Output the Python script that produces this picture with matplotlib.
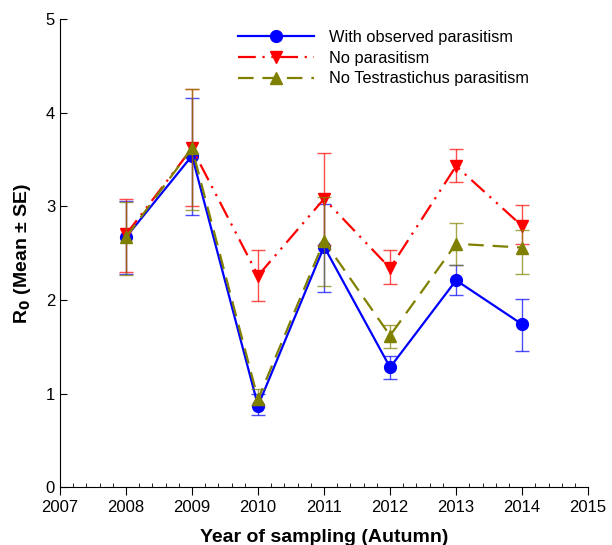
import numpy as np
import matplotlib.pyplot as plt
from matplotlib.ticker import MultipleLocator

plt.rcParams['font.family'] = ['Liberation Sans', 'DejaVu Sans']

# dane
years = [2008, 2009, 2010, 2011, 2012, 2013, 2014]

obs_mean = [2.67, 3.54, 0.87, 2.57, 1.28, 2.21, 1.74]
obs_lo = [2.28, 2.91, 0.77, 2.09, 1.16, 2.05, 1.45]
obs_hi = [3.06, 4.16, 1.00, 3.03, 1.40, 2.37, 2.01]

nopar_mean = [2.70, 3.62, 2.26, 3.08, 2.34, 3.43, 2.79]
nopar_lo = [2.30, 3.00, 1.99, 2.59, 2.17, 3.26, 2.60]
nopar_hi = [3.08, 4.25, 2.53, 3.57, 2.53, 3.61, 3.01]

notes_mean = [2.67, 3.62, 0.94, 2.63, 1.62, 2.60, 2.56]
notes_lo = [2.27, 2.96, 0.88, 2.15, 1.49, 2.37, 2.28]
notes_hi = [3.05, 4.25, 1.05, 3.10, 1.73, 2.82, 2.75]

labels = ['With observed parasitism', 'No parasitism', 'No Testrastichus parasitism']

fig = plt.figure(figsize=(6.12, 5.45), dpi=100)
ax = fig.add_axes([0.098, 0.106, 0.863, 0.859])

series = [
    (obs_mean, obs_lo, obs_hi, 'blue', '-', 'o', labels[0]),
    (nopar_mean, nopar_lo, nopar_hi, 'red', (0, (8, 3, 1, 3, 1, 3)), 'v', labels[1]),
    (notes_mean, notes_lo, notes_hi, 'olive', (0, (7, 4)), '^', labels[2]),
]

for mean, lo, hi, col, ls, mk, lab in series:
    mean = np.array(mean)
    err = [mean - np.array(lo), np.array(hi) - mean]
    ax.errorbar(years, mean, yerr=err, fmt='none', ecolor=col, elinewidth=1,
                capsize=5, capthick=1, alpha=0.7)
    ax.plot(years, mean, color=col, linestyle=ls, linewidth=1.6, marker=mk,
            markersize=8.5, label=lab)

ax.set_xlim(2007, 2015)
ax.set_ylim(0, 5)
ax.xaxis.set_major_locator(MultipleLocator(1))
ax.xaxis.set_minor_locator(MultipleLocator(0.2))
ax.yaxis.set_major_locator(MultipleLocator(1))
ax.tick_params(axis='x', which='major', direction='out', length=6, labelsize=12)
ax.tick_params(axis='x', which='minor', direction='in', length=3)
ax.tick_params(axis='y', which='major', direction='in', length=5, labelsize=12)

ax.spines['top'].set_visible(False)
ax.spines['right'].set_visible(False)

ax.set_xlabel('Year of sampling (Autumn)', fontsize=14, fontweight='bold', labelpad=10)
ax.set_ylabel(r'R$_\mathbf{0}$ (Mean ± SE)', fontsize=14, fontweight='bold', labelpad=9)

ax.legend(loc='upper left', bbox_to_anchor=(0.31, 1.009), frameon=False,
          fontsize=11.8, handlelength=4.6, handletextpad=0.9, labelspacing=0.36)

fig.savefig('out.png', dpi=100)
